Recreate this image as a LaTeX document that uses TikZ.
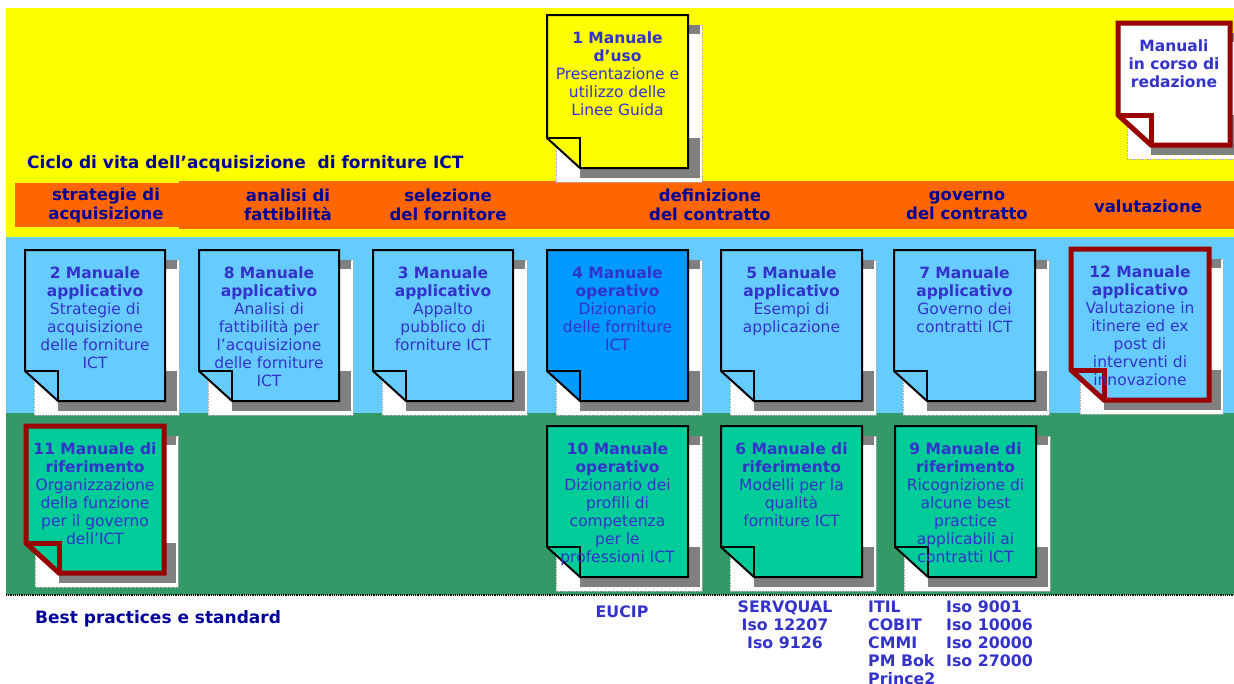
\documentclass[tikz,border=0pt]{standalone}
\usepackage{fontspec}
\setmainfont{DejaVu Sans}
\definecolor{ylw}{HTML}{FFFF00}
\definecolor{org}{HTML}{FF6600}
\definecolor{lblue}{HTML}{66CCFF}
\definecolor{grn}{HTML}{339966}
\definecolor{docblue}{HTML}{66CCFF}
\definecolor{docdeep}{HTML}{0099FF}
\definecolor{docgreen}{HTML}{00CC99}
\definecolor{dred}{HTML}{990000}
\definecolor{txt}{HTML}{3333CC}
\definecolor{navy}{HTML}{000099}
\definecolor{shadowgrey}{HTML}{808080}
\tikzset{
  doctext/.style={anchor=north, align=center, inner sep=0pt, text=txt, font=\fontsize{15.5}{18}\selectfont},
  blackedge/.style={draw=black, line width=2pt, line join=miter},
  rededge/.style={draw=dred, line width=5pt, line join=miter},
  phase/.style={align=center, inner sep=0pt, text=navy, font=\bfseries\fontsize{16.5}{19}\selectfont},
  heading/.style={anchor=west, inner sep=0pt, text=navy, font=\bfseries\fontsize{17}{20}\selectfont},
  stdtext/.style={inner sep=0pt, text=txt, font=\bfseries\fontsize{15.8}{18}\selectfont},
}
% #1 name, #2 x0, #3 y0, #4 x1, #5 y1, #6 fill, #7 edge style, #8 text
\newcommand\manualdoc[8]{%
  \fill[white] ({#2+9},{#3+10}) rectangle ({#4+14},{#5+14});
  \draw[gray!60, densely dotted, line width=0.6pt] ({#2+9},{#3+10}) rectangle ({#4+14},{#5+14});
  \fill[shadowgrey] (#4,{#3+10}) rectangle ({#4+12},{#3+19});
  \fill[shadowgrey] (#4,{#5-30}) rectangle ({#4+12},{#5+10});
  \fill[shadowgrey] ({#2+33},#5) rectangle ({#4+12},{#5+10});
  \filldraw[fill=#6,#7] (#2,#3) -- (#4,#3) -- (#4,#5) -- ({#2+33},#5) -- (#2,{#5-30}) -- cycle;
  \draw[#7] (#2,{#5-30}) -- ({#2+33},{#5-30}) -- ({#2+33},#5);
  \node[doctext] (#1) at ({(#2+#4)/2},{#3+16.5}) {#8};
}
\begin{document}
\begin{tikzpicture}[x=1pt,y=-1pt]
\useasboundingbox (0,0) rectangle (1234,683);
% bands
\fill[ylw] (6,8) rectangle (1234,237);
\fill[lblue] (6,237) rectangle (1234,413);
\fill[grn] (6,413) rectangle (1234,595);
\draw[black, densely dotted, line width=1.2pt] (6,595) -- (1234,595);
% orange phase bar
\fill[org] (15,183) rectangle (179,227);
\fill[org] (179,181) rectangle (1234,229);
\node[phase] (p1) at (106,205) {strategie di\\acquisizione};
\node[phase] (p2) at (288,205) {analisi di\\fattibilità};
\node[phase] (p3) at (448,205) {selezione\\del fornitore};
\node[phase] (p4) at (710,205) {definizione\\del contratto};
\node[phase] (p5) at (967,205) {governo\\del contratto};
\node[phase] (p6) at (1148,206) {valutazione};
\node[heading] (title) at (27,164) {Ciclo di vita dell’acquisizione \ di forniture ICT};
% top row
\manualdoc{m1}{547}{15}{688}{168}{ylw}{blackedge}{\textbf{1 Manuale}\\\textbf{d’uso}\\Presentazione e\\utilizzo delle\\Linee Guida}
\manualdoc{mred}{1118}{23}{1230}{145}{white}{rededge}{\textbf{Manuali}\\\textbf{in corso di}\\\textbf{redazione}}
% middle row
\manualdoc{m2}{25}{250}{165}{401}{docblue}{blackedge}{\textbf{2 Manuale}\\\textbf{applicativo}\\Strategie di\\acquisizione\\delle forniture\\ICT}
\manualdoc{m8}{199}{250}{339}{401}{docblue}{blackedge}{\textbf{8 Manuale}\\\textbf{applicativo}\\Analisi di\\fattibilità per\\l’acquisizione\\delle forniture\\ICT}
\manualdoc{m3}{373}{250}{513}{401}{docblue}{blackedge}{\textbf{3 Manuale}\\\textbf{applicativo}\\Appalto\\pubblico di\\forniture ICT}
\manualdoc{m4}{547}{250}{688}{401}{docdeep}{blackedge}{\textbf{4 Manuale}\\\textbf{operativo}\\Dizionario\\delle forniture\\ICT}
\manualdoc{m5}{721}{250}{862}{401}{docblue}{blackedge}{\textbf{5 Manuale}\\\textbf{applicativo}\\Esempi di\\applicazione}
\manualdoc{m7}{894}{250}{1035}{401}{docblue}{blackedge}{\textbf{7 Manuale}\\\textbf{applicativo}\\Governo dei\\contratti ICT}
\manualdoc{m12}{1071}{249}{1209}{400}{docblue}{rededge}{\textbf{12 Manuale}\\\textbf{applicativo}\\Valutazione in\\itinere ed ex\\post di\\interventi di\\innovazione}
% bottom row
\manualdoc{m11}{26}{426}{164}{573}{docgreen}{rededge}{\textbf{11 Manuale di}\\\textbf{riferimento}\\Organizzazione\\della funzione\\per il governo\\dell’ICT}
\manualdoc{m10}{547}{426}{688}{577}{docgreen}{blackedge}{\textbf{10 Manuale}\\\textbf{operativo}\\Dizionario dei\\profili di\\competenza\\per le\\professioni ICT}
\manualdoc{m6}{721}{426}{862}{577}{docgreen}{blackedge}{\textbf{6 Manuale di}\\\textbf{riferimento}\\Modelli per la\\qualità\\forniture ICT}
\manualdoc{m9}{895}{426}{1036}{577}{docgreen}{blackedge}{\textbf{9 Manuale di}\\\textbf{riferimento}\\Ricognizione di\\alcune best\\practice\\applicabili ai\\contratti ICT}
% standards
\node[heading] (bp) at (35,619) {Best practices e standard};
\node[stdtext, anchor=north] (eucip) at (622,606) {EUCIP};
\node[stdtext, anchor=north, align=center] (servq) at (785,601) {SERVQUAL\\Iso 12207\\Iso 9126};
\node[stdtext, anchor=north west, align=left] (itil) at (868,601) {ITIL\\COBIT\\CMMI\\PM Bok\\Prince2};
\node[stdtext, anchor=north west, align=left] (iso) at (946,601) {Iso 9001\\Iso 10006\\Iso 20000\\Iso 27000};
\end{tikzpicture}
\end{document}
